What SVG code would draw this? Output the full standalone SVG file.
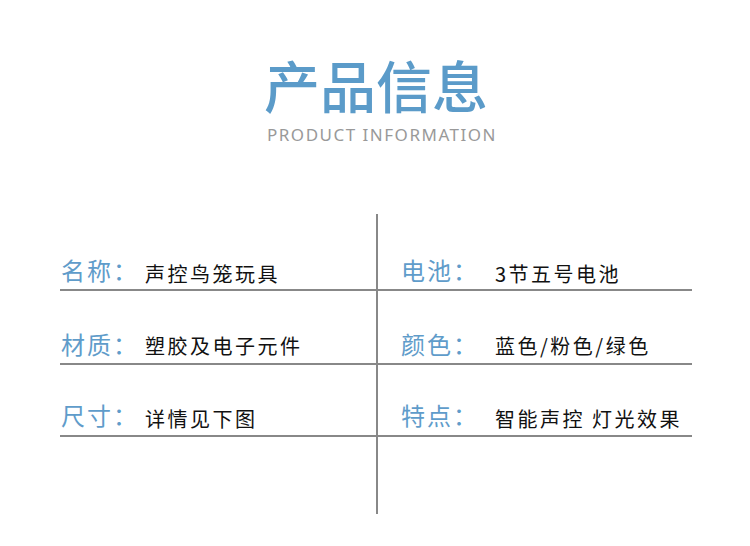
<svg xmlns="http://www.w3.org/2000/svg" width="750" height="546" viewBox="0 0 750 546">
<style>
.t{font-family:"Noto Sans CJK SC","Noto Sans",sans-serif;fill:#5b9bc9}
.k{font-family:"Noto Sans CJK SC",sans-serif;font-size:24px;fill:#5f9cca;letter-spacing:2px}
.v{font-family:"Noto Sans CJK SC",sans-serif;font-size:20px;fill:#111;letter-spacing:2.5px}
.ln{stroke:#888;stroke-width:2;fill:none}
</style>
<rect width="750" height="546" fill="#fff"/>
<g id="title">
<text class="t" x="376" y="108" font-size="56" text-anchor="middle" font-weight="500">产品信息</text>
<text x="382" y="141" font-family="'Noto Sans',sans-serif" font-size="17" fill="#999" text-anchor="middle" letter-spacing="1.5">PRODUCT INFORMATION</text>
</g>
<g id="connectors">
<line class="ln" x1="377" y1="214" x2="377" y2="514"/>
<line class="ln" x1="60" y1="290" x2="692" y2="290"/>
<line class="ln" x1="60" y1="364" x2="692" y2="364"/>
<line class="ln" x1="60" y1="436" x2="692" y2="436"/>
</g>
<g id="r1l"><text class="k" x="61" y="280">名称：</text><text class="v" x="145" y="282">声控鸟笼玩具</text></g>
<g id="r2l"><text class="k" x="61" y="354">材质：</text><text class="v" x="145" y="354">塑胶及电子元件</text></g>
<g id="r3l"><text class="k" x="61" y="425">尺寸：</text><text class="v" x="145" y="427">详情见下图</text></g>
<g id="r1r"><text class="k" x="401" y="280">电池：</text><text class="v" x="495" y="282">3节五号电池</text></g>
<g id="r2r"><text class="k" x="401" y="354">颜色：</text><text class="v" x="495" y="354">蓝色/粉色/绿色</text></g>
<g id="r3r"><text class="k" x="401" y="425">特点：</text><text class="v" x="495" y="427">智能声控 灯光效果</text></g>
</svg>
